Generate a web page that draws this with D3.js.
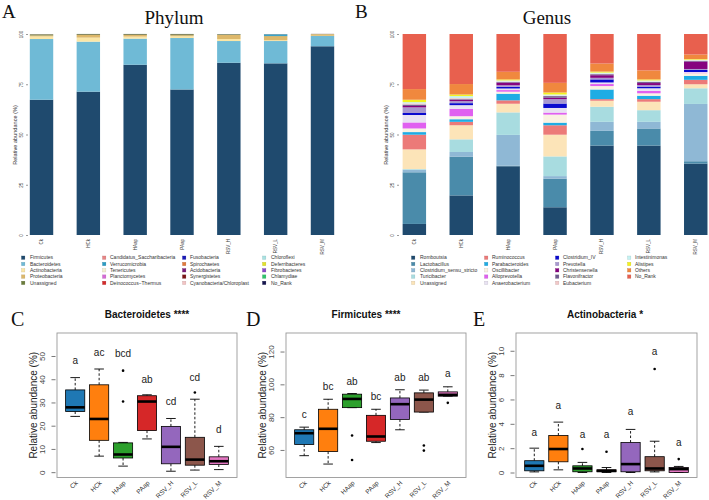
<!DOCTYPE html>
<html><head><meta charset="utf-8">
<script src="https://cdn.jsdelivr.net/npm/d3@7"></script>
<style>body{margin:0;background:#fff}svg{display:block}</style>
</head><body>
<svg id="c" width="709" height="500"></svg>
<script>
// ---------- DATA ----------
const samples = ["Ck","HCk","HAap","PAap","RSV_H","RSV_L","RSV_M"];

const phylumNames = ["Firmicutes","Bacteroidetes","Actinobacteria","Proteobacteria","Unassigned",
  "Candidatus_Saccharibacteria","Verrucomicrobia","Tenericutes","Planctomycetes","Deinococcus\u2212Thermus",
  "Fusobacteria","Spirochaetes","Acidobacteria","Synergistetes","Cyanobacteria/Chloroplast",
  "Chloroflexi","Deferribacteres","Fibrobacteres","Chlamydiae","No_Rank"];
const phylumColors = ["#1F4A6E","#6FBAD6","#FBE6A6","#DDB86A","#6B7D3A",
  "#E88585","#2A9CC4","#F3EFD0","#D56AD6","#D42A2A",
  "#1A1AB8","#E07A3A","#7A1E7A","#7A1414","#F2C4C4",
  "#A8E2E2","#E2E22A","#8A4AC8","#2EC46A","#14144E"];
const phylumCk    = [67.3,30.2,1.3,0.5,0.5, 0.02,0.02,0.02,0.01,0.01, 0.01,0.01,0.01,0.01,0.01, 0.01,0.01,0.01,0.01,0.01];
const phylumHCk   = [71.3,24.9,2.0,1.3,0.4, 0.01,0.01,0.01,0.01,0.01, 0.01,0.01,0.01,0.01,0.01, 0.01,0.01,0.01,0.01,0.01];
const phylumHAap  = [84.7,13.0,1.0,0.8,0.4, 0.01,0.01,0.01,0.01,0.01, 0.01,0.01,0.01,0.01,0.01, 0.01,0.01,0.01,0.01,0.01];
const phylumPAap  = [72.4,25.6,0.9,0.5,0.5, 0.01,0.01,0.01,0.01,0.01, 0.01,0.01,0.01,0.01,0.01, 0.01,0.01,0.01,0.01,0.01];
const phylumRSV_H = [85.7,10.8,1.0,2.0,0.3, 0.01,0.05,0.01,0.01,0.01, 0.01,0.01,0.01,0.01,0.01, 0.01,0.01,0.01,0.01,0.01];
const phylumRSV_L = [85.4,11.1,0.4,2.0,0.1, 0.05,0.8,0.01,0.01,0.01, 0.01,0.01,0.01,0.01,0.01, 0.01,0.01,0.01,0.01,0.01];
const phylumRSV_M = [93.9,5.1,0.1,0.8,0.05, 0.01,0.01,0.01,0.01,0.01, 0.01,0.01,0.01,0.01,0.01, 0.01,0.01,0.01,0.01,0.01];

const genusNames = ["Romboutsia","Lactobacillus","Clostridium_sensu_stricto","Turicibacter","Unassigned",
  "Ruminococcus","Parabacteroides","Oscillibacter","Alloprevotella","Anaerobacterium",
  "Clostridium_IV","Prevotella","Christensenella","Flavonifractor","Eubacterium",
  "Intestinimonas","Alistipes","Others","No_Rank"];
const genusColors = ["#1F4A6E","#4A8BAA","#8FB8D5","#A8DCE0","#FCE4B8",
  "#EC7A78","#1EACE4","#FAF2E2","#E060F0","#E8E2F2",
  "#0A0ACF","#A898D0","#86037F","#6E5A8E","#F2C8C8",
  "#C4F2F2","#F4F21E","#F0883E","#E8604E"];
const genusCk    = [5.5,25.7,1.3,0.3,9.8, 7.3,1.3,1.8,3.0,3.7, 1.0,2.8,0.7,0.7,0.6, 0.6,1.2,5.3,27.4];
const genusHCk   = [19.7,19.3,2.3,6.3,7.0, 1.7,1.3,1.5,3.7,1.8, 1.0,1.0,0.7,0.3,0.5, 1.0,0.8,5.2,24.9];
const genusHAap  = [34.2,0.3,15.3,11.2,4.3, 1.7,3.3,1.0,0.8,0.8, 0.8,0.8,1.3,0.3,0.3, 0.5,0.5,3.8,18.8];
const genusPAap  = [13.8,14.2,1.3,9.8,10.8, 4.7,1.3,4.0,1.0,2.3, 2.2,2.2,0.7,0.8,0.3, 0.5,1.0,4.8,24.3];
const genusRSV_H = [44.5,7.3,4.5,7.5,3.0, 0.8,4.8,1.7,1.0,0.8, 1.5,0.8,1.3,0.5,0.3, 0.5,0.5,4.0,14.7];
const genusRSV_L = [44.5,8.5,3.3,5.8,4.2, 1.3,1.7,1.2,1.2,1.3, 0.8,0.8,1.0,0.5,0.3, 0.5,0.5,4.5,18.1];
const genusRSV_M = [35.5,1.2,28.5,7.8,2.0, 2.2,2.0,1.3,0.3,0.3, 1.0,0.5,3.7,0.3,0.3, 0.3,0.3,2.3,10.2];

const stackTicks = [0,25,50,75,100];

const boxColors = ["#1F78B4","#FF7F0E","#2CA02C","#D62728","#9467BD","#8C564B","#E377C2"];
// [lower whisker, Q1, median, Q3, upper whisker]
const bactStats = [[24.0,26.1,27.9,35.4,40.7],[6.9,13.7,22.9,37.6,44.4],[2.6,6.1,7.6,12.6,12.8],[14.3,17.9,30.4,32.9,33.3],[0.4,3.6,10.9,19.7,23.1],[0.9,3.0,5.4,15.0,31.4],[1.1,3.3,4.7,6.6,11.1]];
const bactOutliers = [[],[],[43.7,30.4],[],[],[34.3],[]];
const bactLetters = ["a","ac","bcd","ab","cd","cd","d"];
const bactLetterY = [48,51.6,51.1,40,30.4,40.9,18.3];
const bactTicks = [0,10,20,30,40,50];

const firmStats = [[56.5,63.3,70.2,72.3,73.9],[51.4,59.0,72.9,84.8,90.9],[85.8,85.8,91.1,94.0,94.4],[64.5,65.3,68.2,81.1,84.8],[72.3,78.6,87.9,91.7,96.7],[83.1,83.1,90.7,94.8,96.5],[92.8,92.8,93.6,95.4,98.5]];
const firmOutliers = [[],[],[68.8,53.9],[],[],[62.7,59.6],[88.7]];
const firmLetters = ["c","bc","ab","bc","ab","ab","a"];
const firmLetterY = [81.5,98.9,102,92.4,104,104,106.7];
const firmTicks = [60,80,100,120];

const actStats = [[0.05,0.14,0.55,0.97,2.0],[0.22,0.88,1.93,3.04,4.14],[0,0.06,0.33,0.55,0.83],[0,0.06,0.14,0.22,0.41],[0,0.06,0.69,2.46,3.54],[0.05,0.14,0.33,1.3,2.57],[0,0,0.28,0.41,0.5]];
const actOutliers = [[],[],[1.93],[1.71],[],[8.5],[1.1]];
const actLetters = ["a","a","a","a","a","a","a"];
const actLetterY = [3.3,5.5,3.1,3.1,5.0,9.9,2.5];
const actTicks = [0,2,4,6,8,10];

// ---------- DRAW ----------
const svg = d3.select("#c");
const serif = "'Liberation Serif','Times New Roman',serif";
const sans = "'Liberation Sans',Arial,sans-serif";

function stacked(opts){
  const {rows, names, colors, range, title, titleX, letter, letterX, tickX, ylabX, legend} = opts;
  const data = samples.map((s,i)=>{const o={sample:s}; names.forEach((n,j)=>o[n]=rows[i][j]); return o;});
  const x = d3.scaleBand().domain(samples).range(range).paddingInner(0.5).paddingOuter(0.25);
  const y = d3.scaleLinear().domain([0,100]).range([235,34]);
  const series = d3.stack().keys(names)(data);
  const g = svg.append("g");
  g.selectAll("g.s").data(series).join("g").attr("fill",(d,i)=>colors[i])
    .selectAll("rect").data(d=>d).join("rect")
    .attr("x",d=>x(d.data.sample)).attr("width",x.bandwidth())
    .attr("y",d=>y(d[1])).attr("height",d=>Math.max(0,y(d[0])-y(d[1])));
  // y axis
  const yAxis = d3.axisLeft(y).tickValues(stackTicks).tickSize(2).tickPadding(2);
  const ag = g.append("g").attr("transform",`translate(${tickX},0)`).call(yAxis);
  ag.select(".domain").remove();
  ag.selectAll(".tick line").attr("stroke","#555").attr("stroke-width",0.6);
  ag.selectAll(".tick text").attr("font-size",4.5).attr("fill","#444").attr("font-family",sans)
    .attr("text-anchor","middle").attr("x",0).attr("dy",0)
    .attr("transform","translate(-5,0) rotate(-90)");
  g.append("text").attr("transform",`translate(${ylabX},135) rotate(-90)`)
    .attr("text-anchor","middle").attr("font-size",5.6).attr("fill","#333").attr("font-family",sans)
    .text("Relative abundance (%)");
  // x labels
  g.selectAll("text.xl").data(samples).join("text").attr("class","xl")
    .attr("transform",d=>`translate(${x(d)+x.bandwidth()/2+1.5},239) rotate(-90)`)
    .attr("text-anchor","end").attr("font-size",4.5).attr("fill","#444").attr("font-family",sans).text(d=>d);
  // titles
  g.append("text").attr("x",titleX).attr("y",24).attr("text-anchor","middle")
    .attr("font-family",serif).attr("font-size",19).attr("fill","#111").text(title);
  g.append("text").attr("x",letterX).attr("y",18).attr("font-family",serif)
    .attr("font-size",19).attr("fill","#111").text(letter);
  // legend
  const lg = g.append("g");
  names.forEach((n,i)=>{
    const col = Math.floor(i/5), row = i%5;
    const cy = 257.7 + row*6.3;
    lg.append("rect").attr("x",legend.sq[col]).attr("y",cy-1.7).attr("width",3.4).attr("height",3.4)
      .attr("fill",colors[i]).attr("stroke",d3.color(colors[i]).darker(0.6)).attr("stroke-width",0.3);
    lg.append("text").attr("x",legend.tx[col]).attr("y",cy+1.7).attr("font-size",5)
      .attr("fill","#333").attr("font-family",sans).text(n);
  });
}

stacked({rows:[phylumCk,phylumHCk,phylumHAap,phylumPAap,phylumRSV_H,phylumRSV_L,phylumRSV_M],
  names:phylumNames, colors:phylumColors, range:[18.1,345.9], title:"Phylum", titleX:174,
  letter:"A", letterX:2, tickX:28, ylabX:17,
  legend:{sq:[21.5,102.5,182.5,262.5], tx:[30,110,190,271]}});
stacked({rows:[genusCk,genusHCk,genusHAap,genusPAap,genusRSV_H,genusRSV_L,genusRSV_M],
  names:genusNames, colors:genusColors, range:[390.9,719.2], title:"Genus", titleX:547,
  letter:"B", letterX:355, tickX:399, ylabX:388,
  legend:{sq:[411.5,484.5,555.5,627.5], tx:[420,492,563,635]}});

function boxPanel(opts){
  const {stats, outliers, letters, letterY, ticks, yDomain, left, right, title, titleX, letter, letterX} = opts;
  const top = 333, bottom = 477.5;
  const x = d3.scaleLinear().domain([0.24,7.76]).range([left,right]);
  const y = d3.scaleLinear().domain(yDomain).range([bottom,top]);
  const g = svg.append("g");
  const bw = (x(1.4)-x(0.6));
  stats.forEach((s,i)=>{
    const cx = x(i+1);
    // whiskers
    g.append("line").attr("x1",cx).attr("x2",cx).attr("y1",y(s[3])).attr("y2",y(s[4]))
      .attr("stroke","#000").attr("stroke-width",0.9).attr("stroke-dasharray","2.5,2");
    g.append("line").attr("x1",cx).attr("x2",cx).attr("y1",y(s[1])).attr("y2",y(s[0]))
      .attr("stroke","#000").attr("stroke-width",0.9).attr("stroke-dasharray","2.5,2");
    [s[0],s[4]].forEach(v=>g.append("line").attr("x1",cx-bw/4).attr("x2",cx+bw/4)
      .attr("y1",y(v)).attr("y2",y(v)).attr("stroke","#000").attr("stroke-width",0.9));
    g.append("rect").attr("x",cx-bw/2).attr("width",bw).attr("y",y(s[3]))
      .attr("height",Math.max(0.5,y(s[1])-y(s[3]))).attr("fill",boxColors[i])
      .attr("stroke","#000").attr("stroke-width",0.8);
    g.append("line").attr("x1",cx-bw/2).attr("x2",cx+bw/2).attr("y1",y(s[2])).attr("y2",y(s[2]))
      .attr("stroke","#000").attr("stroke-width",2.6);
    outliers[i].forEach(v=>g.append("circle").attr("cx",cx).attr("cy",y(v)).attr("r",1.3).attr("fill","#000"));
    g.append("text").attr("x",cx).attr("y",y(letterY[i])).attr("dy","0.35em").attr("text-anchor","middle")
      .attr("font-size",10).attr("font-family",sans).attr("fill","#222").text(letters[i]);
    g.append("text").attr("transform",`translate(${cx+3},${bottom+6}) rotate(-45)`)
      .attr("text-anchor","end").attr("font-size",6.5).attr("font-family",sans).attr("fill","#333")
      .text(samples[i]);
  });
  g.append("rect").attr("x",left).attr("y",top).attr("width",right-left).attr("height",bottom-top)
    .attr("fill","none").attr("stroke","#999").attr("stroke-width",0.9);
  const ag = g.append("g").attr("transform",`translate(${left-1.5},0)`)
    .call(d3.axisLeft(y).tickValues(ticks).tickSize(4).tickPadding(3));
  ag.select(".domain").remove();
  ag.selectAll(".tick line").attr("stroke","#555").attr("stroke-width",0.8);
  ag.selectAll(".tick text").attr("font-size",8).attr("fill","#444").attr("font-family",sans)
    .attr("text-anchor","middle").attr("x",0).attr("dy",0)
    .attr("transform","translate(-10.5,0) rotate(-90)");
  g.append("text").attr("transform",`translate(${left-24},${(top+bottom)/2}) rotate(-90)`)
    .attr("text-anchor","middle").attr("dy","0.35em").attr("font-size",10).attr("fill","#222")
    .attr("font-family",sans).text("Relative abundance (%)");
  g.append("text").attr("x",titleX).attr("y",318).attr("text-anchor","middle").attr("font-weight","bold")
    .attr("font-size",10).attr("font-family",sans).attr("fill","#111").text(title);
  g.append("text").attr("x",letterX).attr("y",326).attr("font-family",serif).attr("font-size",20)
    .attr("fill","#111").text(letter);
}

boxPanel({stats:bactStats,outliers:bactOutliers,letters:bactLetters,letterY:bactLetterY,ticks:bactTicks,
  yDomain:[-2.3,59.9],left:57,right:237,title:"Bacteroidetes ****",titleX:147,letter:"C",letterX:11});
boxPanel({stats:firmStats,outliers:firmOutliers,letters:firmLetters,letterY:firmLetterY,ticks:firmTicks,
  yDomain:[43.2,131.3],left:286,right:466,title:"Firmicutes ****",titleX:366,letter:"D",letterX:246});
boxPanel({stats:actStats,outliers:actOutliers,letters:actLetters,letterY:actLetterY,ticks:actTicks,
  yDomain:[-0.41,11.46],left:516,right:697,title:"Actinobacteria *",titleX:605,letter:"E",letterX:473});
</script>
</body></html>
